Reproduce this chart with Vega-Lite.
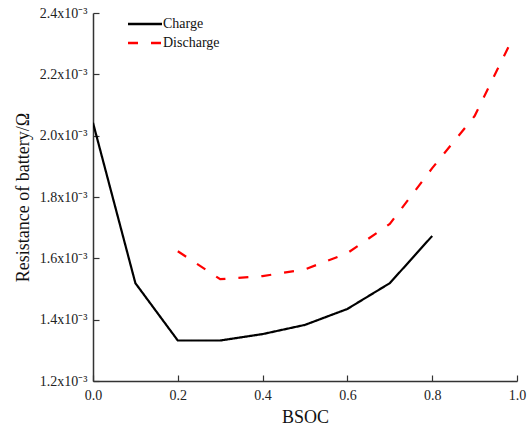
{
  "$schema": "https://vega.github.io/schema/vega-lite/v6.json",
  "width": 424,
  "height": 368,
  "autosize": {"type": "none"},
  "padding": {"left": 93, "top": 13, "right": 15, "bottom": 47},
  "background": "white",
  "config": {
    "font": "Liberation Serif",
    "view": {"stroke": null},
    "axis": {
      "labelFont": "Liberation Serif",
      "titleFont": "Liberation Serif",
      "labelFontSize": 14,
      "titleFontSize": 18,
      "titleFontWeight": "normal",
      "labelColor": "#222",
      "titleColor": "#111",
      "domainColor": "#333",
      "domainWidth": 1.5,
      "tickColor": "#333",
      "tickWidth": 1.2,
      "tickSize": -6,
      "labelFlush": false,
      "labelOverlap": false,
      "grid": false
    },
    "legend": {
      "labelFont": "Liberation Serif",
      "labelFontSize": 14,
      "labelColor": "#111"
    }
  },
  "data": {
    "values": [
      {"bsoc": 0.0, "r": 0.002042, "series": "Charge"},
      {"bsoc": 0.1, "r": 0.001519, "series": "Charge"},
      {"bsoc": 0.2, "r": 0.001332, "series": "Charge"},
      {"bsoc": 0.3, "r": 0.001332, "series": "Charge"},
      {"bsoc": 0.4, "r": 0.001353, "series": "Charge"},
      {"bsoc": 0.5, "r": 0.001383, "series": "Charge"},
      {"bsoc": 0.6, "r": 0.001435, "series": "Charge"},
      {"bsoc": 0.7, "r": 0.001519, "series": "Charge"},
      {"bsoc": 0.8, "r": 0.001673, "series": "Charge"},
      {"bsoc": 0.2, "r": 0.001623, "series": "Discharge"},
      {"bsoc": 0.3, "r": 0.001532, "series": "Discharge"},
      {"bsoc": 0.4, "r": 0.001542, "series": "Discharge"},
      {"bsoc": 0.5, "r": 0.001564, "series": "Discharge"},
      {"bsoc": 0.6, "r": 0.001617, "series": "Discharge"},
      {"bsoc": 0.7, "r": 0.001712, "series": "Discharge"},
      {"bsoc": 0.8, "r": 0.001894, "series": "Discharge"},
      {"bsoc": 0.9, "r": 0.002064, "series": "Discharge"},
      {"bsoc": 0.99, "r": 0.002318, "series": "Discharge"}
    ]
  },
  "mark": {"type": "line", "strokeWidth": 2.2, "clip": true},
  "encoding": {
    "x": {
      "field": "bsoc",
      "type": "quantitative",
      "scale": {"domain": [0, 1], "nice": false},
      "axis": {
        "title": "BSOC",
        "values": [0, 0.2, 0.4, 0.6, 0.8, 1.0],
        "format": ".1f",
        "labelPadding": 13,
        "titlePadding": 6
      }
    },
    "y": {
      "field": "r",
      "type": "quantitative",
      "scale": {"domain": [0.0012, 0.0024], "nice": false, "zero": false},
      "axis": {
        "title": "Resistance of battery/Ω",
        "values": [0.0012, 0.0014, 0.0016, 0.0018, 0.002, 0.0022, 0.0024],
        "labelExpr": "format(datum.value * 1000, '.1f') + 'x10⁻³'",
        "labelPadding": 12,
        "titlePadding": 7
      }
    },
    "color": {
      "field": "series",
      "type": "nominal",
      "scale": {"domain": ["Charge", "Discharge"], "range": ["#000000", "#ff0000"]},
      "legend": {
        "title": null,
        "orient": "none",
        "legendX": 42,
        "legendY": 1,
        "symbolType": "M-2,0H2",
        "symbolSize": 289,
        "symbolStrokeWidth": 2.4,
        "rowPadding": 2,
        "labelOffset": 8
      }
    },
    "strokeDash": {
      "field": "series",
      "type": "nominal",
      "scale": {"domain": ["Charge", "Discharge"], "range": [[1, 0], [10, 13]]}
    }
  }
}
